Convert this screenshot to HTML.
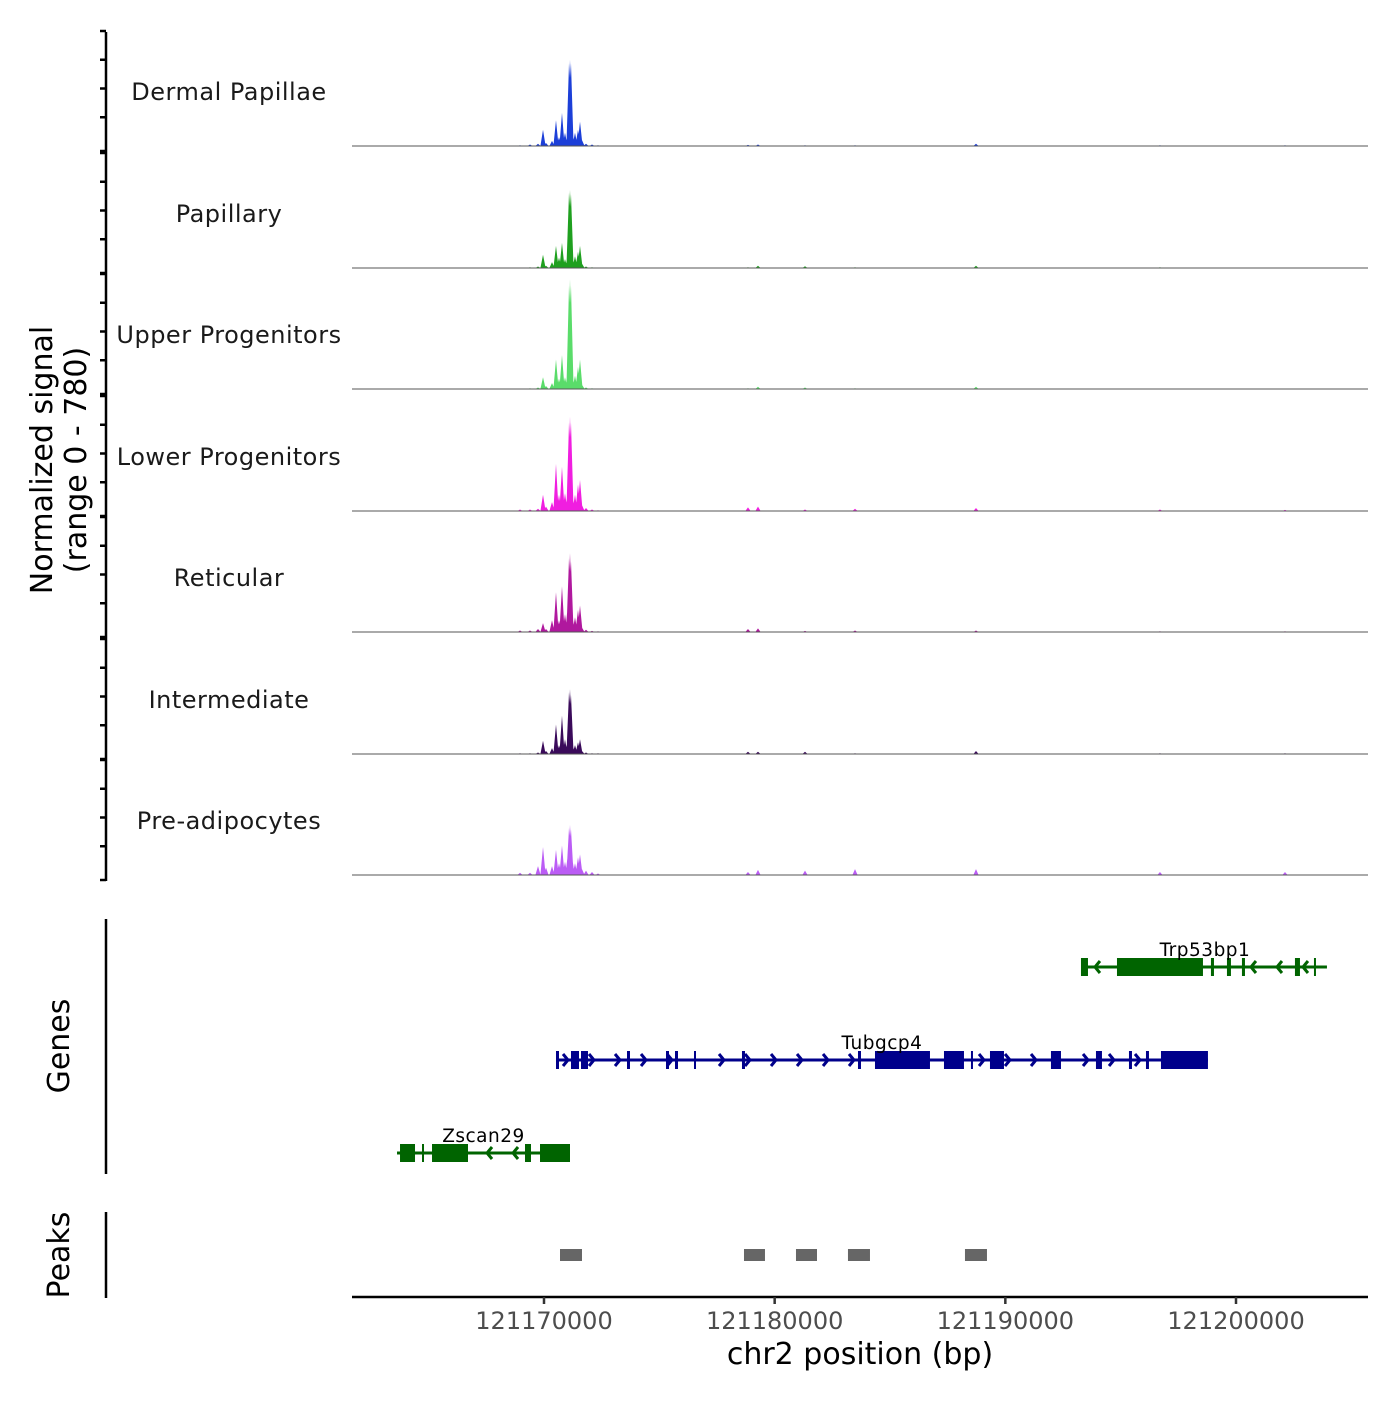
<!DOCTYPE html>
<html><head><meta charset="utf-8"><style>
body{margin:0;background:#fff}
svg text{font-family:"DejaVu Sans","Liberation Sans",sans-serif}
</style></head><body>
<svg id="chart" width="1400" height="1400" viewBox="0 0 1400 1400" xmlns="http://www.w3.org/2000/svg">
<g id="tracks"></g>
<g id="genes"></g>
<g id="peaks"></g>
<g id="axes"></g>
<text x="52" y="460" font-size="30" text-anchor="middle" transform="rotate(-90 52 460)">Normalized signal</text>
<text x="86" y="460" font-size="30" text-anchor="middle" transform="rotate(-90 86 460)">(range 0 - 780)</text>
<text x="69" y="1046" font-size="30" text-anchor="middle" transform="rotate(-90 69 1046)">Genes</text>
<text x="69" y="1255" font-size="30" text-anchor="middle" transform="rotate(-90 69 1255)">Peaks</text>
<text x="860" y="1364" font-size="30" text-anchor="middle">chr2 position (bp)</text>
</svg>
<script>
const bins=[121168960,121169393,121169740,121169957,121170087,121170347,121170520,121170650,121170780,121170910,121171040,121171084,121171127,121171170,121171214,121171344,121171474,121171561,121171647,121171821,121172081,121172341,121178843,121179277,121181315,121183483,121188728,121196703,121202124];
const trackNames=["Dermal Papillae","Papillary","Upper Progenitors","Lower Progenitors","Reticular","Intermediate","Pre-adipocytes"];
const trackColors=["#1c3fd8","#1fa01f","#5adc6a","#f01ee0","#b0189e","#3a0a5a","#bb5cf5"];
const dermal=[5,10,15,110,20,35,175,60,225,90,100,560,585,560,120,90,110,165,40,15,10,5,8,10,5,5,15,5,5];
const papillary=[3,5,10,90,15,40,150,70,170,60,100,510,530,500,100,80,110,150,30,10,5,3,5,15,12,5,15,5,3];
const upper=[3,5,10,80,20,40,200,70,230,80,140,700,745,700,120,90,150,200,30,10,5,3,5,15,10,5,15,3,3];
const lower=[10,10,15,110,30,60,320,110,300,120,160,600,640,600,140,110,180,210,40,20,10,5,25,30,10,15,20,10,8];
const reticular=[10,10,20,60,20,80,270,80,310,120,200,500,535,480,140,100,150,180,30,15,8,5,20,25,8,10,10,5,5];
const intermediate=[5,5,10,90,20,40,200,60,260,100,120,420,440,400,90,60,80,100,20,10,5,5,15,15,15,5,20,5,5];
const preadipo=[15,15,60,190,50,60,170,80,200,90,150,320,340,310,130,80,120,140,40,30,20,10,20,35,30,40,40,20,20];
const trackValues=[dermal,papillary,upper,lower,reticular,intermediate,preadipo];
const yMax=780;
const xTicks=[121170000,121180000,121190000,121200000];
const geneNames=["Trp53bp1","Tubgcp4","Zscan29"];
const geneStrand=[-1,1,-1];
const geneColors=["#006400","#00008b","#006400"];
const geneSpans=[[121193366,121203943],[121170520,121198784],[121163628,121171127]];
const trp53bp1Exons=[[121193279,121193583],[121194840,121198568],[121198914,121199045],[121199608,121199781],[121200258,121200389],[121202556,121202773],[121203380,121203466]];
const tubgcp4Exons=[[121170520,121170650],[121171170,121171517],[121171604,121171907],[121173598,121173728],[121175289,121175419],[121175679,121175809],[121176503,121176589],[121178583,121178713],[121183612,121183742],[121184349,121186733],[121187340,121188207],[121188510,121188597],[121189334,121189941],[121191978,121192412],[121193929,121194189],[121195360,121195490],[121196097,121196227],[121196747,121198784]];
const zscan29Exons=[[121163758,121164408],[121164711,121164798],[121165145,121166705],[121169176,121169436],[121169827,121171127]];
const geneExons=[trp53bp1Exons,tubgcp4Exons,zscan29Exons];
const peakStarts=[121170694,121178670,121180924,121183178,121188250];
const peakEnds=[121171647,121179580,121181835,121184132,121189204];

const NS="http://www.w3.org/2000/svg";
const X0=352,X1=1368;
const xScale=bp=>544+(bp-121170000)*(1236-544)/30000;
function mk(tag,attrs,parent){const e=document.createElementNS(NS,tag);for(const k in attrs)e.setAttribute(k,attrs[k]);parent.appendChild(e);return e;}

const tracks=document.getElementById('tracks');
const baselines=[146,268,389,511,632,754,875];
const H=115;
trackValues.forEach((vals,t)=>{
  const base=baselines[t];
  const yS=v=>base-v/yMax*H;
  const g=mk('g',{},tracks);
  
  
  let d='';
  vals.forEach((v,i)=>{const x=xScale(bins[i]);d+=`M${x-2.6},${base}L${x},${yS(v)}L${x+2.6},${base}Z`;});
  const p=mk('path',{d:d,fill:trackColors[t]},g);
  
  
  const l=mk('line',{x1:X0,x2:X1,y1:base,y2:base,stroke:'#555','stroke-width':1},g);
  
  
  const tx=mk('text',{x:229,y:base-46,'font-size':24,'text-anchor':'middle',fill:'#1a1a1a','letter-spacing':'0.5'},g);
  tx.textContent=trackNames[t];
  
  
});

const genes=document.getElementById('genes');
const geneY=[967,1060,1153];
geneNames.forEach((n,gi)=>{
  const y=geneY[gi],c=geneColors[gi];
  const g=mk('g',{},genes);
  
  
  const x1=xScale(geneSpans[gi][0]),x2=xScale(geneSpans[gi][1]);
  mk('line',{x1:x1,x2:x2,y1:y,y2:y,stroke:c,'stroke-width':3},g);
  const ex=geneExons[gi];
  for(let x=x1+12;x<x2-6;x+=26){
    const bpx=121170000+(x-544)*30000/692;
    if(ex.some(e=>bpx>=e[0]-100&&bpx<=e[1]+100))continue;
    const s=geneStrand[gi]*5;
    mk('path',{d:`M${x-s},${y-6}L${x},${y}L${x-s},${y+6}`,fill:'none',stroke:c,'stroke-width':3},g);
  }
  ex.forEach(e=>{
    const r=mk('rect',{x:xScale(e[0]),y:y-9,width:Math.max(2,xScale(e[1])-xScale(e[0])),height:18,fill:c},g);
    
    
  });
  const tx=mk('text',{x:(x1+x2)/2,y:y-11,'font-size':18.5,'text-anchor':'middle',fill:'#000','letter-spacing':'0.5'},g);
  tx.textContent=n;
  
  
});

const peaks=document.getElementById('peaks');
peakStarts.forEach((s,i)=>{
  const r=mk('rect',{x:xScale(s),y:1249,width:xScale(peakEnds[i])-xScale(s),height:12,fill:'#666'},peaks);
  
  
});

const axes=document.getElementById('axes');
mk('line',{x1:106,x2:106,y1:32,y2:881,stroke:'#000','stroke-width':2.5},axes);
baselines.forEach(b=>{for(let k=0;k<5;k++){const y=b-H+k*H/4+(k==4?5:0);mk('line',{x1:100,x2:106,y1:y,y2:y,stroke:'#000','stroke-width':2.5},axes);}});
mk('line',{x1:106,x2:106,y1:919,y2:1174,stroke:'#000','stroke-width':2.5},axes);
mk('line',{x1:106,x2:106,y1:1212,y2:1298,stroke:'#000','stroke-width':2.5},axes);
mk('line',{x1:X0,x2:X1,y1:1297,y2:1297,stroke:'#000','stroke-width':2.5},axes);
xTicks.forEach(v=>{
  const x=xScale(v);
  mk('line',{x1:x,x2:x,y1:1297,y2:1304,stroke:'#333','stroke-width':2.5},axes);
  const t=mk('text',{x:x,y:1329,'font-size':24,'text-anchor':'middle',fill:'#4d4d4d'},axes);
  t.textContent=v;
  
  
});
</script>
</body></html>
